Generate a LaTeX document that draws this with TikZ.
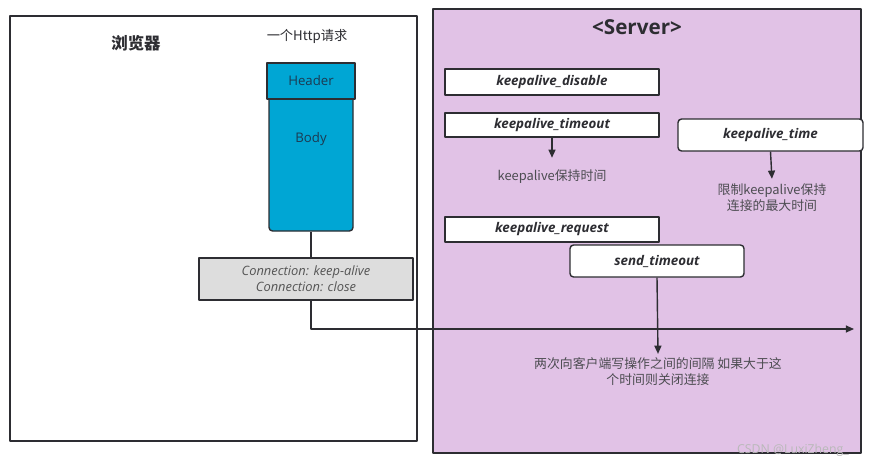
\documentclass[tikz,border=0pt]{standalone}
\usepackage{fontspec}
\setmainfont{Open Sans}
\newfontfamily\cjk{Noto Sans CJK SC}
\usetikzlibrary{arrows.meta}
\definecolor{ink}{RGB}{45,45,50}
\definecolor{reqblue}{RGB}{0,166,212}
\definecolor{reqtext}{RGB}{28,58,82}
\definecolor{srvfill}{RGB}{225,194,230}
\definecolor{connfill}{RGB}{221,221,221}
\definecolor{conntext}{RGB}{85,85,85}
\newcommand{\pxu}{0.03cm}
\tikzset{
  frame/.style={draw=ink,line width=1.3pt},
  parambox/.style={draw=ink,line width=1.2pt,fill=white,minimum width=214*\pxu,
    font=\fontsize{11.4}{13}\selectfont\bfseries\itshape,text=ink},
  roundbox/.style={parambox,rounded corners=3pt},
  note/.style={align=center,text=ink!85,font=\cjk\fontsize{11}{13.6}\selectfont},
}
\begin{document}
\begin{tikzpicture}[x=0.03cm,y=-0.03cm,line join=round,>={Triangle[length=7pt,width=6pt]}]
\useasboundingbox (0,0) rectangle (879,469);
% browser side
\node[frame,fill=white,minimum width=407*\pxu,minimum height=425*\pxu] (browser) at (213.5,228.5) {};
\node[font=\cjk\fontsize{14}{16}\selectfont\bfseries,text=ink] (title) at (136,43) {浏览器};
\node[font=\cjk\fontsize{11.3}{13}\selectfont,text=ink] (reqlbl) at (307,36) {一个Http请求};
\node[draw=ink,line width=1.2pt,fill=reqblue,rounded corners=3pt,minimum width=84*\pxu,minimum height=136*\pxu] (body) at (311,163) {};
\node[draw=ink,line width=1.2pt,fill=reqblue,minimum width=88*\pxu,minimum height=36*\pxu,
  font=\fontsize{11.3}{13}\selectfont,text=reqtext] (head) at (311,81) {Header};
\node[font=\fontsize{11.3}{13}\selectfont,text=reqtext] (bodylbl) at (311,139) {Body};
\node[draw=ink,line width=1.2pt,fill=connfill,minimum width=214*\pxu,minimum height=42*\pxu,align=center,
  font=\fontsize{11}{13.6}\selectfont\itshape,text=conntext] (conn) at (306,279)
  {Connection: keep-alive\\Connection: close};
% server side
\node[frame,fill=srvfill,minimum width=428*\pxu,minimum height=444*\pxu] (server) at (647,231) {};
\node[font=\fontsize{17.6}{20}\selectfont\bfseries,text=ink] (srvtitle) at (637,27) {<Server>};
\node[parambox,minimum height=26*\pxu] (kdis) at (552,82) {keepalive\_disable};
\node[parambox,minimum height=24*\pxu] (ktmo) at (552,125) {keepalive\_timeout};
\node[roundbox,minimum width=185*\pxu,minimum height=32*\pxu] (ktime) at (770.5,135) {keepalive\_time};
\node[parambox,minimum height=25*\pxu] (kreq) at (552,229.5) {keepalive\_request};
\node[roundbox,minimum width=174*\pxu,minimum height=32*\pxu] (send) at (657,261) {send\_timeout};
\node[note] (note1) at (552,177) {keepalive保持时间};
\node[note] (note2) at (772,198) {限制keepalive保持\\连接的最大时间};
\node[note] (note3) at (658,372) {两次向客户端写操作之间的间隔 如果大于这\\个时间则关闭连接};
\coordinate (tip) at (854,329);
% connectors
\draw[ink,line width=1.2pt] (body.south) -- (body.south |- conn.north);
\draw[ink,line width=1.2pt,->] (body.south |- conn.south) |- (tip);
\draw[ink,line width=1.2pt,->,shorten >=7pt] (ktmo.south) -- (note1.north);
\draw[ink,line width=1.2pt,->,shorten >=1pt] (ktime.south) -- (note2.north);
\draw[ink,line width=1.2pt,->] (send.south) -- (note3.north);
\node[font=\fontsize{10.5}{12}\selectfont,text=gray!55] (mark) at (793,450) {CSDN @LuxiZheng\_};
\end{tikzpicture}
\end{document}
